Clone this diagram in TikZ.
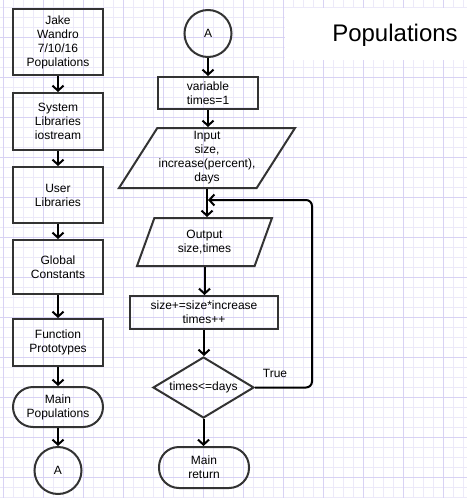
\documentclass[tikz,border=0pt]{standalone}
\usepackage{fontspec}
\setmainfont{Liberation Sans}
\usetikzlibrary{arrows.meta}
\usetikzlibrary{shapes.geometric}
\definecolor{gridminor}{HTML}{ECE9F9}
\definecolor{gridmajor}{HTML}{D8D2F4}
\definecolor{edge}{HTML}{333333}
\tikzset{box/.style = {draw = edge, line width = 2pt, rectangle, align = center,
                       inner sep = 0, font = \fontsize{12}{14}\selectfont}}
\tikzset{term/.style = {box, rounded corners = 20pt}}
\tikzset{conn/.style = {box, circle, minimum size = 47pt}}
\tikzset{io/.style = {box, trapezium, trapezium left angle = 54,
                      trapezium right angle = 126, trapezium stretches body}}
\tikzset{decide/.style = {box, diamond, aspect = 1.66, minimum width = 101pt, minimum height = 61pt}}
\tikzset{flow/.style = {draw = black, line width = 2pt,
                        -{Straight Barb[length = 5pt, width = 11pt]}}}

\begin{document}
\begin{tikzpicture}[x = 1pt, y = -1pt]
      \useasboundingbox (0, 0) rectangle (467, 498);
      \fill [white] (0, 0) rectangle (467, 498);
      \foreach \x in {3, 13, ..., 463} \draw [gridminor, line width = 1pt] (\x, 0) -- (\x, 498);
      \foreach \y in {7, 17, ..., 497} \draw [gridminor, line width = 1pt] (0, \y) -- (467, \y);
      \foreach \x in {3, 43, ..., 443} \draw [gridmajor, line width = 1pt] (\x, 0) -- (\x, 498);
      \foreach \y in {37, 77, ..., 477} \draw [gridmajor, line width = 1pt] (0, \y) -- (467, \y);
      \fill [white] (285, 8) rectangle (467, 60);
      \node (title) at (395, 35) {\fontsize{24}{28}\selectfont Populations};

      \node (hdr) at (58, 42) [box, minimum width = 90pt, minimum height = 66pt] {Jake\\Wandro\\7/10/16\\Populations};
      \node (sys) at (58, 121.5) [box, minimum width = 90pt, minimum height = 57pt] {System\\Libraries\\iostream};
      \node (usr) at (58, 195) [box, minimum width = 90pt, minimum height = 56pt] {User\\Libraries};
      \node (glob) at (58, 267) [box, minimum width = 90pt, minimum height = 54pt] {Global\\Constants};
      \node (proto) at (58, 342.5) [box, minimum width = 90pt, minimum height = 47pt] {Function\\Prototypes};
      \node (mainpop) at (58, 407) [term, minimum width = 90pt, minimum height = 40pt] {Main\\Populations};
      \node (outA) at (58, 470.5) [conn] {A};

      \node (inA) at (208, 33.5) [conn] {A};
      \node (init) at (208, 93) [box, minimum width = 100pt, minimum height = 32pt] {variable\\times=1};
      \node (input) at (207, 158) [io, minimum width = 176pt, minimum height = 60pt] {Input\\size,\\increase(percent),\\days};
      \node (output) at (204.5, 242) [io, minimum width = 135pt, minimum height = 48pt] {Output\\size,times};
      \node (grow) at (204, 312.5) [box, minimum width = 148pt, minimum height = 33pt] {size+=size*increase\\times++};
      \node (test) at (203.5, 387.5) [decide] {times<=days};
      \node (mainret) at (204, 467.5) [term, minimum width = 90pt, minimum height = 41pt] {Main\\return};
      \node (true) at (275, 373) [font = \fontsize{12}{14}\selectfont] {True};
      \coordinate (turn) at (312, 200);
      \coordinate (back) at (208, 200);

      \draw [flow] (hdr) -- (sys);
      \draw [flow] (sys) -- (usr);
      \draw [flow] (usr) -- (glob);
      \draw [flow] (glob) -- (proto);
      \draw [flow] (proto) -- (mainpop);
      \draw [flow] (mainpop) -- (outA);

      \draw [flow] (inA) -- (init);
      \draw [flow] (init.south) -- (init.south |- input.north);
      \draw [flow] (input.south) -- (input.south |- output.north);
      \draw [flow] (output.south) -- (output.south |- grow.north);
      \draw [flow] (grow.south) -- (grow.south |- test.north);
      \draw [flow] (test.south) -- (test.south |- mainret.north);
      \draw [flow, rounded corners = 6pt] (test.east) -| (turn) -- (back);
    \end{tikzpicture}
\end{document}
